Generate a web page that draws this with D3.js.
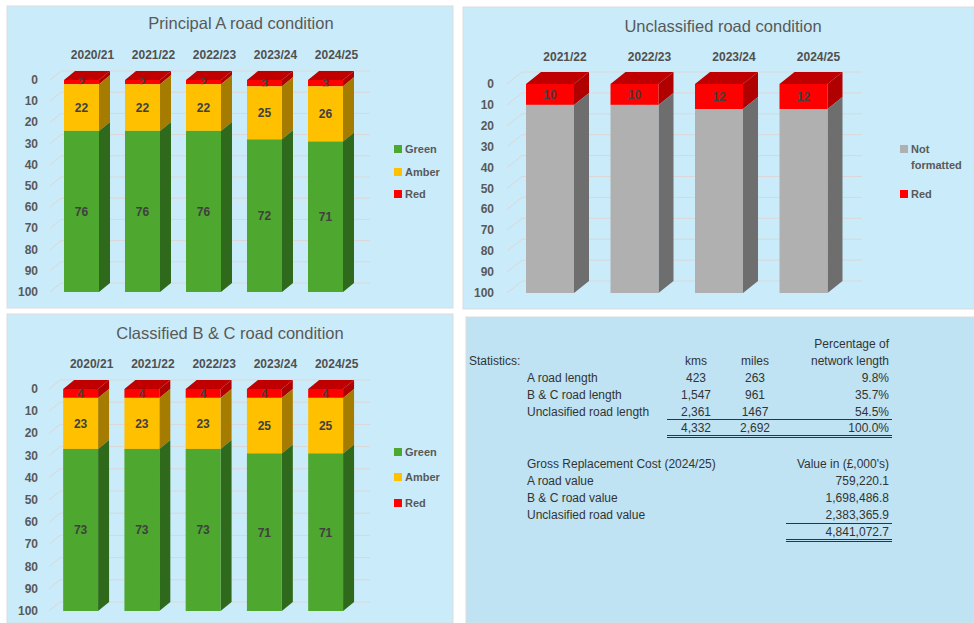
<!DOCTYPE html>
<html>
<head>
<meta charset="utf-8">
<script src="https://cdn.jsdelivr.net/npm/d3@7"></script>
<style>
  body { margin: 0; background: #fff; }
  svg { display: block; font-family: "Liberation Sans", Arial, sans-serif; }
</style>
</head>
<body>
<svg id="chart" width="974" height="623"></svg>
<script>
// ---- data ----
const yearsAB = ["2020/21", "2021/22", "2022/23", "2023/24", "2024/25"];
const aRed    = [2, 2, 2, 3, 3];
const aAmber  = [22, 22, 22, 25, 26];
const aGreen  = [76, 76, 76, 72, 71];

const bcRed   = [4, 4, 4, 4, 4];
const bcAmber = [23, 23, 23, 25, 25];
const bcGreen = [73, 73, 73, 71, 71];

const yearsU  = ["2021/22", "2022/23", "2023/24", "2024/25"];
const uRed    = [10, 10, 12, 12];
const uNotFmt = [90, 90, 88, 88];

const yTicks = [0, 10, 20, 30, 40, 50, 60, 70, 80, 90, 100];

const statRows  = ["A road length", "B & C road length", "Unclasified road length"];
const statKms   = ["423", "1,547", "2,361"];
const statMiles = ["263", "961", "1467"];
const statPct   = ["9.8%", "35.7%", "54.5%"];
const statTotal = ["4,332", "2,692", "100.0%"];

const valueRows  = ["A road value", "B & C road value", "Unclasified road value"];
const valueVals  = ["759,220.1", "1,698,486.8", "2,383,365.9"];
const valueTotal = "4,841,072.7";

const colors = {
  Red:   { front: "#ff0000", side: "#b00000", top: "#c00000" },
  Amber: { front: "#ffc000", side: "#a67c00", top: "#c09000" },
  Green: { front: "#4ea72e", side: "#2f6a1c", top: "#3a8a22" },
  "Not formatted": { front: "#b0b0b0", side: "#6e6e6e", top: "#8a8a8a" }
};

const svg = d3.select("#chart");

// panels
const panels = [
  { x: 7,   y: 6,   w: 446, h: 302, fill: "#caecfa" },
  { x: 463, y: 7,   w: 511, h: 302, fill: "#caecfa" },
  { x: 7,   y: 314, w: 446, h: 309, fill: "#caecfa" },
  { x: 466, y: 317, w: 508, h: 306, fill: "#bfe3f3" }
];
svg.selectAll("rect.panel").data(panels).enter().append("rect")
  .attr("class", "panel")
  .attr("x", d => d.x).attr("y", d => d.y)
  .attr("width", d => d.w).attr("height", d => d.h)
  .attr("fill", d => d.fill)
  .attr("stroke", "#dcdcdc").attr("stroke-width", 1);

function drawBarChart(opt) {
  const g = svg.append("g");
  const x = d3.scaleBand().domain(opt.cats)
    .range(opt.xRange).paddingInner(opt.padIn).paddingOuter(opt.padIn / 2);
  const y = d3.scaleLinear().domain([0, 100]).range(opt.yRange);
  const dx = opt.dx, dy = opt.dy;

  g.append("text")
    .attr("x", opt.titleX).attr("y", opt.titleY)
    .attr("text-anchor", "middle")
    .style("font-size", "16.5px").style("fill", "#595959")
    .text(opt.title);

  // gridlines on back wall + floor diagonals
  const grid = g.append("g");
  yTicks.forEach(t => {
    grid.append("path")
      .attr("d", `M${opt.gridLeft},${y(t)} L${opt.gridLeft + dx},${y(t) - dy} L${opt.gridRight},${y(t) - dy}`)
      .attr("fill", "none").attr("stroke", "#dcd6d6").attr("stroke-width", 1);
  });

  // y axis labels
  g.selectAll("text.ytick").data(yTicks).enter().append("text")
    .attr("class", "ytick")
    .attr("x", opt.yLabelX).attr("y", d => y(d) + 4)
    .attr("text-anchor", "end")
    .style("font-size", "12px").style("font-weight", "bold").style("fill", "#595959")
    .text(d => d);

  // category labels
  g.selectAll("text.cat").data(opt.cats).enter().append("text")
    .attr("class", "cat")
    .attr("x", d => x(d) + x.bandwidth() / 2 + dx)
    .attr("y", opt.catY)
    .attr("text-anchor", "middle")
    .style("font-size", "12px").style("font-weight", "bold").style("fill", "#505050")
    .text(d => d);

  // bars, stacking from top (0) downward
  opt.cats.forEach((cat, i) => {
    let acc = 0;
    const x0 = x(cat), x1 = x(cat) + x.bandwidth();
    opt.series.forEach((s, k) => {
      const v = s.values[i];
      const ya = y(acc), yb = y(acc + v);
      const c = colors[s.name];
      if (k === 0) {
        g.append("path")
          .attr("d", `M${x0},${ya} L${x0 + dx},${ya - dy} L${x1 + dx},${ya - dy} L${x1},${ya} Z`)
          .attr("fill", c.top);
      }
      g.append("path")
        .attr("d", `M${x1},${ya} L${x1 + dx},${ya - dy} L${x1 + dx},${yb - dy} L${x1},${yb} Z`)
        .attr("fill", c.side);
      g.append("rect")
        .attr("x", x0).attr("y", ya)
        .attr("width", x.bandwidth()).attr("height", yb - ya)
        .attr("fill", c.front);
      if (s.label !== false) {
        g.append("text")
          .attr("x", (x0 + x1) / 2).attr("y", (ya + yb) / 2 + 4.5)
          .attr("text-anchor", "middle")
          .style("font-size", "12px").style("font-weight", "bold").style("fill", "#404040")
          .text(v);
      }
      acc += v;
    });
  });

  // legend
  const leg = g.selectAll("g.leg").data(opt.legend).enter().append("g")
    .attr("transform", d => `translate(${opt.legendX},${d.y})`);
  leg.append("rect").attr("x", 0).attr("y", -4).attr("width", 8).attr("height", 8)
    .attr("fill", d => colors[d.name].front);
  leg.append("text").attr("x", 11).attr("y", 4)
    .style("font-size", "11px").style("font-weight", "bold").style("fill", "#595959")
    .each(function(d) {
      const lines = d.label;
      d3.select(this).selectAll("tspan").data(lines).enter().append("tspan")
        .attr("x", 11).attr("dy", (l, j) => j === 0 ? 0 : 16)
        .text(l => l);
    });
}

drawBarChart({
  title: "Principal A road condition", titleX: 241, titleY: 29,
  cats: yearsAB, xRange: [51, 356], padIn: 0.426,
  yRange: [80, 292], dx: 11, dy: 9,
  gridLeft: 50, gridRight: 370, yLabelX: 38, catY: 59,
  series: [
    { name: "Red", values: aRed },
    { name: "Amber", values: aAmber },
    { name: "Green", values: aGreen }
  ],
  legendX: 394,
  legend: [
    { name: "Green", label: ["Green"], y: 149 },
    { name: "Amber", label: ["Amber"], y: 172 },
    { name: "Red", label: ["Red"], y: 194 }
  ]
});

drawBarChart({
  title: "Unclassified road condition", titleX: 723, titleY: 32,
  cats: yearsU, xRange: [507.75, 845.75], padIn: 0.432,
  yRange: [84, 293], dx: 15, dy: 12,
  gridLeft: 507, gridRight: 862, yLabelX: 494, catY: 61,
  series: [
    { name: "Red", values: uRed },
    { name: "Not formatted", values: uNotFmt, label: false }
  ],
  legendX: 900,
  legend: [
    { name: "Not formatted", label: ["Not", "formatted"], y: 149 },
    { name: "Red", label: ["Red"], y: 194 }
  ]
});

drawBarChart({
  title: "Classified B & C road condition", titleX: 230, titleY: 339,
  cats: yearsAB, xRange: [50, 356.25], padIn: 0.43,
  yRange: [389, 611], dx: 11, dy: 9,
  gridLeft: 49, gridRight: 370, yLabelX: 38, catY: 368,
  series: [
    { name: "Red", values: bcRed },
    { name: "Amber", values: bcAmber },
    { name: "Green", values: bcGreen }
  ],
  legendX: 394,
  legend: [
    { name: "Green", label: ["Green"], y: 452 },
    { name: "Amber", label: ["Amber"], y: 477 },
    { name: "Red", label: ["Red"], y: 503 }
  ]
});

// ---- statistics table ----
const tb = svg.append("g")
  .style("font-size", "12px").style("fill", "#333");
function txt(x, y, s, anchor) {
  tb.append("text").attr("x", x).attr("y", y)
    .attr("text-anchor", anchor || "start").text(s);
}
txt(469, 365, "Statistics:");
txt(696, 365, "kms", "middle");
txt(755, 365, "miles", "middle");
txt(889, 348, "Percentage of", "end");
txt(889, 365, "network length", "end");
statRows.forEach((r, i) => {
  const yy = 382 + i * 17;
  txt(527, yy, r);
  txt(696, yy, statKms[i], "middle");
  txt(755, yy, statMiles[i], "middle");
  txt(889, yy, statPct[i], "end");
});
txt(696, 432, statTotal[0], "middle");
txt(755, 432, statTotal[1], "middle");
txt(889, 432, statTotal[2], "end");

function hline(x1, x2, y) {
  tb.append("line").attr("x1", x1).attr("x2", x2).attr("y1", y).attr("y2", y)
    .attr("stroke", "#333").attr("stroke-width", 1);
}
hline(667, 892, 419.5);
hline(667, 892, 435.5);
hline(667, 892, 437.5);

txt(527, 468, "Gross Replacement Cost (2024/25)");
txt(889, 468, "Value in (£,000's)", "end");
valueRows.forEach((r, i) => {
  const yy = 485 + i * 17;
  txt(527, yy, r);
  txt(889, yy, valueVals[i], "end");
});
hline(786, 892, 523.5);
txt(889, 536, valueTotal, "end");
hline(786, 892, 539.5);
hline(786, 892, 541.5);
</script>
</body>
</html>
